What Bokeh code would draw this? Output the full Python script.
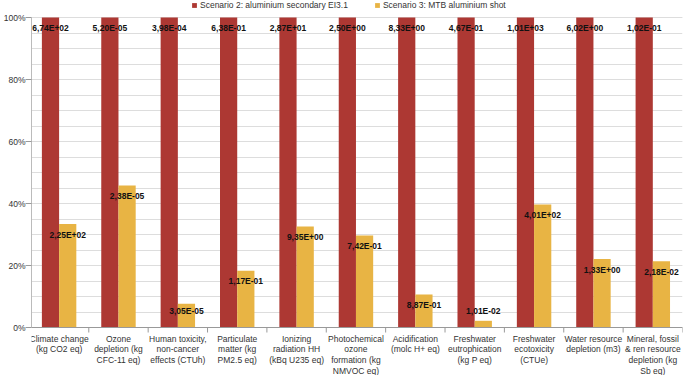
from bokeh.plotting import figure
from bokeh.models import (ColumnDataSource, FixedTicker, NumeralTickFormatter,
                          Range1d, Legend, LegendItem)
from bokeh.core.properties import value
from bokeh.embed import file_html
from bokeh.resources import INLINE

# Impact categories (ILCD midpoint indicators)
categories = [
    "Climate change\n(kg CO2 eq)",
    "Ozone\ndepletion (kg\nCFC-11 eq)",
    "Human toxicity,\nnon-cancer\neffects (CTUh)",
    "Particulate\nmatter (kg\nPM2.5 eq)",
    "Ionizing\nradiation HH\n(kBq U235 eq)",
    "Photochemical\nozone\nformation (kg\nNMVOC eq)",
    "Acidification\n(molc H+ eq)",
    "Freshwater\neutrophication\n(kg P eq)",
    "Freshwater\necotoxicity\n(CTUe)",
    "Water resource\ndepletion (m3)",
    "Mineral, fossil\n& ren resource\ndepletion (kg\nSb eq)",
]

# Absolute impact results per scenario
scenario2 = [6.74e2, 5.20e-5, 3.98e-4, 6.38e-1, 2.87e1, 2.50e0,
             8.33e0, 4.67e-1, 1.01e3, 6.02e0, 1.02e-1]
scenario3 = [2.25e2, 2.38e-5, 3.05e-5, 1.17e-1, 9.35e0, 7.42e-1,
             8.87e-1, 1.01e-2, 4.01e2, 1.33e0, 2.18e-2]

series_names = ["Scenario 2: aluminium secondary EI3.1",
                "Scenario 3: MTB aluminium shot"]
colors = ["#AD3833", "#E8B444"]

n = len(categories)
centers = [i + 0.5 for i in range(n)]
bar_w = 0.29
FONT = "Liberation Sans"

# vertical pixels per 100 % and the margins kept inside the frame
PX = 310.0
TOP_PAD = 17 / PX
BOTTOM_PAD = 48 / PX


def sci(v):
    return f"{v:.2E}".replace(".", ",")


# Each category is normalised to the larger of the two scenarios
peak = [max(a, b) for a, b in zip(scenario2, scenario3)]
share2 = [a / m for a, m in zip(scenario2, peak)]
share3 = [b / m for b, m in zip(scenario3, peak)]


def label_y(s):
    return max(s - 0.034, 0.053)


src2 = ColumnDataSource(dict(
    x=[c - bar_w / 2 for c in centers], top=share2,
    ly=[label_y(s) for s in share2], txt=[sci(v) for v in scenario2]))
src3 = ColumnDataSource(dict(
    x=[c + bar_w / 2 for c in centers], top=share3,
    ly=[label_y(s) for s in share3], txt=[sci(v) for v in scenario3]))
cat_src = ColumnDataSource(dict(x=centers, y=[-6 / PX] * n, txt=categories))
bounds = list(range(n + 1))

p = figure(width=688, height=375, output_backend="svg", toolbar_location=None,
           x_range=Range1d(0.035, n), y_range=Range1d(-BOTTOM_PAD, 1 + TOP_PAD),
           min_border_left=0, min_border_right=6, min_border_top=0,
           min_border_bottom=0)
p.outline_line_color = None
p.background_fill_color = "white"
p.border_fill_color = "white"
p.xaxis.visible = False

# Y axis: percentage scale, light gridlines every 5 %
p.yaxis.bounds = (0, 1)
p.yaxis.ticker = FixedTicker(ticks=[0, 0.2, 0.4, 0.6, 0.8, 1.0],
                             minor_ticks=[i * 0.05 for i in range(21)])
p.yaxis.formatter = NumeralTickFormatter(format="0%")
p.yaxis.major_label_text_font = FONT
p.yaxis.major_label_text_font_size = "8.5px"
p.yaxis.major_label_text_color = "#333333"
p.yaxis.major_tick_out = 6
p.yaxis.major_tick_in = 0
p.yaxis.minor_tick_line_color = None
p.yaxis.major_tick_line_color = "#999999"
p.yaxis.axis_line_color = "#bbbbbb"
p.yaxis.major_label_standoff = 0

p.ygrid.grid_line_color = "#dddddd"
p.ygrid.minor_grid_line_color = "#dddddd"
p.xgrid.grid_line_color = None

r2 = p.vbar(x="x", top="top", width=bar_w, source=src2,
            fill_color=colors[0], line_color=None)
r3 = p.vbar(x="x", top="top", width=bar_w, source=src3,
            fill_color=colors[1], line_color=None)

for src in (src2, src3):
    p.text(x="x", y="ly", text="txt", source=src, text_align="center",
           text_baseline="middle", text_font_size="8.5px",
           text_font_style="bold", text_color="#111111",
           text_font=value(FONT))

# Category axis: baseline, boundary tick marks and multi-line names
p.segment(x0=[0], y0=[0], x1=[n], y1=[0], line_color="#999999", line_width=1)
p.segment(x0=bounds, y0=[0] * len(bounds), x1=bounds,
          y1=[-5 / PX] * len(bounds), line_color="#999999", line_width=1)
p.text(x="x", y="y", text="txt", source=cat_src, text_align="center",
       text_baseline="top", text_font=value(FONT), text_font_size="8.5px",
       text_color="#333333", text_line_height=1.075)

legend = Legend(items=[LegendItem(label=series_names[0], renderers=[r2]),
                       LegendItem(label=series_names[1], renderers=[r3])],
                location=(160, 365), orientation="horizontal",
                label_text_font=FONT, label_text_font_size="8.5px",
                label_text_color="#333333", glyph_width=6, glyph_height=6,
                label_height=10, label_standoff=3, spacing=26, padding=0,
                margin=0, border_line_color=None, background_fill_alpha=0)
p.add_layout(legend, "center")

open("out.html", "w").write(file_html(p, INLINE))
